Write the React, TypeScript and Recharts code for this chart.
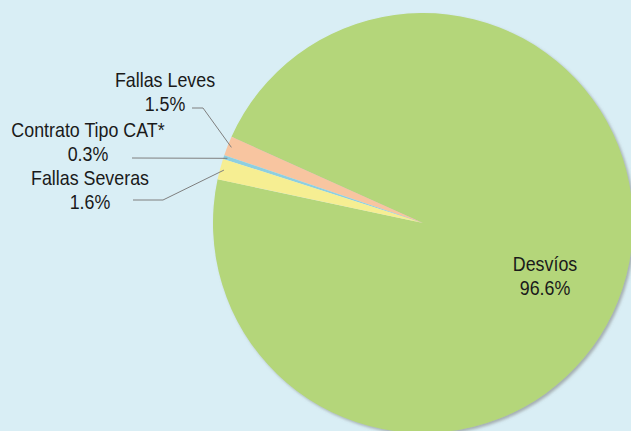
import React from "react";
import { PieChart, Pie, Cell } from "recharts";

const categories = ["Desvíos", "Fallas Leves", "Contrato Tipo CAT*", "Fallas Severas"];
const shares = [96.6, 1.5, 0.3, 1.6];
const percentLabels = ["96.6%", "1.5%", "0.3%", "1.6%"];

const colors = ["#b4d67a", "#f8c5a0", "#8ecfe0", "#f6ee92"];

const data = categories.map((name, i) => ({ name, value: shares[i], pct: percentLabels[i] }));

// label layout relative to pie centre (styling)
const labelLayout: Record<string, { tx: number; ty: number; line?: [number, number][] }> = {
  "Desvíos": { tx: 122, ty: 48 },
  "Fallas Leves": { tx: -258, ty: -136, line: [[-231, -115], [-220, -115]] },
  "Contrato Tipo CAT*": { tx: -335, ty: -86, line: [[-291, -65]] },
  "Fallas Severas": { tx: -333, ty: -38, line: [[-290, -23], [-260, -23]] },
};

const FONT = "'Liberation Sans', Arial, sans-serif";
const RAD = Math.PI / 180;
const SX = 0.85;

const renderLabel = (props: any) => {
  const { cx, cy, midAngle, outerRadius, name, payload } = props;
  const L = labelLayout[name];
  if (!L) return null;
  const x = cx + L.tx;
  const y = cy + L.ty;
  let path = "";
  if (L.line) {
    const r = outerRadius - 4;
    const ex = cx + r * Math.cos(-midAngle * RAD);
    const ey = cy + r * Math.sin(-midAngle * RAD);
    const pts = L.line.map(([dx, dy]) => [cx + dx, cy + dy]);
    pts.push([ex, ey]);
    path = "M" + pts.map((p) => p[0] + "," + p[1]).join(" L");
  }
  return (
    <g>
      {path && <path d={path} stroke="#7f7f7f" strokeWidth={1} fill="none" />}
      <text
        x={0}
        y={0}
        transform={`translate(${x},${y}) scale(${SX},1)`}
        textAnchor="middle"
        fontFamily={FONT}
        fontSize={21}
        fill="#1a1a1a"
      >
        <tspan x={0} dy={0}>{name}</tspan>
        <tspan x={0} dy={24}>{payload?.pct ?? ""}</tspan>
      </text>
    </g>
  );
};

export default function App() {
  return (
    <div style={{ position: "absolute", left: 0, top: 0, width: 631, height: 431, background: "#d9eef5", overflow: "hidden" }}>
      <svg width={0} height={0} style={{ position: "absolute" }}>
        <defs>
          <filter id="pieShadow" x="-10%" y="-10%" width="120%" height="120%">
            <feDropShadow dx={2} dy={2} stdDeviation={1.5} floodColor="#7a7a7a" floodOpacity={0.55} />
          </filter>
        </defs>
      </svg>
      <PieChart width={631} height={431} margin={{ top: 0, right: 0, bottom: 0, left: 0 }}>
        <Pie
          data={data}
          dataKey="value"
          nameKey="name"
          cx={423}
          cy={223}
          outerRadius={210}
          startAngle={168}
          endAngle={528}
          stroke="none"
          label={renderLabel}
          labelLine={false}
          isAnimationActive={false}
        >
          {data.map((d, i) => (
            <Cell key={d.name} fill={colors[i]} filter={i === 0 ? "url(#pieShadow)" : undefined} />
          ))}
        </Pie>
      </PieChart>
    </div>
  );
}
